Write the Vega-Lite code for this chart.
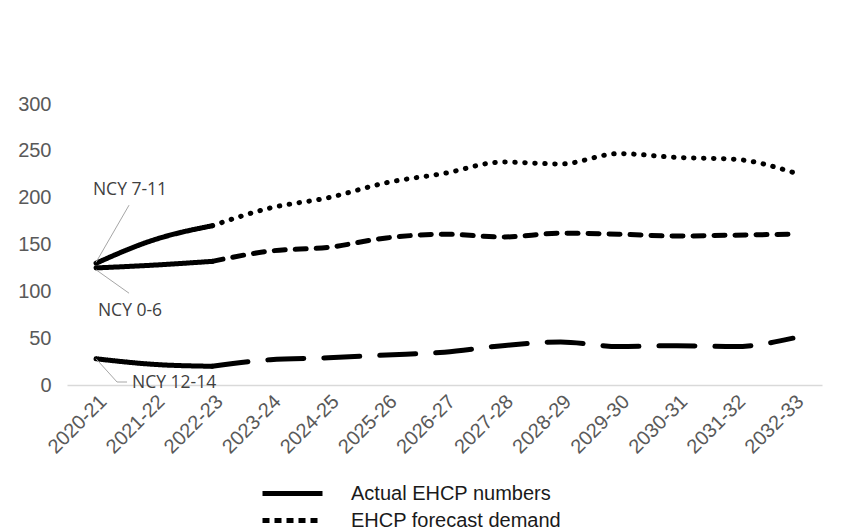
{
  "$schema": "https://vega.github.io/schema/vega-lite/v6.json",
  "autosize": "none",
  "width": 755,
  "height": 281,
  "padding": {"left": 67, "top": 104, "right": 28, "bottom": 147},
  "background": "white",
  "config": {
    "view": {"stroke": null},
    "font": "Liberation Sans"
  },
  "datasets": {
    "main": [
      {"year": "2020-21", "series": "NCY 7-11", "value": 130},
      {"year": "2021-22", "series": "NCY 7-11", "value": 155},
      {"year": "2022-23", "series": "NCY 7-11", "value": 170},
      {"year": "2023-24", "series": "NCY 7-11", "value": 189},
      {"year": "2024-25", "series": "NCY 7-11", "value": 200},
      {"year": "2025-26", "series": "NCY 7-11", "value": 216},
      {"year": "2026-27", "series": "NCY 7-11", "value": 226},
      {"year": "2027-28", "series": "NCY 7-11", "value": 238},
      {"year": "2028-29", "series": "NCY 7-11", "value": 236},
      {"year": "2029-30", "series": "NCY 7-11", "value": 247},
      {"year": "2030-31", "series": "NCY 7-11", "value": 243},
      {"year": "2031-32", "series": "NCY 7-11", "value": 241},
      {"year": "2032-33", "series": "NCY 7-11", "value": 227},
      {"year": "2020-21", "series": "NCY 0-6", "value": 125},
      {"year": "2021-22", "series": "NCY 0-6", "value": 128},
      {"year": "2022-23", "series": "NCY 0-6", "value": 132},
      {"year": "2023-24", "series": "NCY 0-6", "value": 143},
      {"year": "2024-25", "series": "NCY 0-6", "value": 147},
      {"year": "2025-26", "series": "NCY 0-6", "value": 157},
      {"year": "2026-27", "series": "NCY 0-6", "value": 161},
      {"year": "2027-28", "series": "NCY 0-6", "value": 158},
      {"year": "2028-29", "series": "NCY 0-6", "value": 162},
      {"year": "2029-30", "series": "NCY 0-6", "value": 161},
      {"year": "2030-31", "series": "NCY 0-6", "value": 159},
      {"year": "2031-32", "series": "NCY 0-6", "value": 160},
      {"year": "2032-33", "series": "NCY 0-6", "value": 161},
      {"year": "2020-21", "series": "NCY 12-14", "value": 28},
      {"year": "2021-22", "series": "NCY 12-14", "value": 22},
      {"year": "2022-23", "series": "NCY 12-14", "value": 20},
      {"year": "2023-24", "series": "NCY 12-14", "value": 27},
      {"year": "2024-25", "series": "NCY 12-14", "value": 29},
      {"year": "2025-26", "series": "NCY 12-14", "value": 32},
      {"year": "2026-27", "series": "NCY 12-14", "value": 35},
      {"year": "2027-28", "series": "NCY 12-14", "value": 42},
      {"year": "2028-29", "series": "NCY 12-14", "value": 46},
      {"year": "2029-30", "series": "NCY 12-14", "value": 41},
      {"year": "2030-31", "series": "NCY 12-14", "value": 42},
      {"year": "2031-32", "series": "NCY 12-14", "value": 41},
      {"year": "2032-33", "series": "NCY 12-14", "value": 50}
    ]
  },
  "encoding": {
    "x": {
      "field": "year",
      "type": "ordinal",
      "scale": {"type": "point", "padding": 0.5},
      "axis": {
        "title": null,
        "labelAngle": -45,
        "labelFontSize": 20,
        "labelColor": "#595959",
        "labelPadding": 6,
        "ticks": false,
        "domainColor": "#d9d9d9",
        "domainWidth": 1.5,
        "grid": false
      }
    },
    "y": {
      "type": "quantitative",
      "scale": {"domain": [0, 300]},
      "axis": {
        "title": null,
        "values": [0, 50, 100, 150, 200, 250, 300],
        "labelFontSize": 20,
        "labelColor": "#595959",
        "labelPadding": 16,
        "ticks": false,
        "domain": false,
        "grid": false
      }
    }
  },
  "layer": [
    {
      "data": {"name": "main"},
      "transform": [{"filter": {"field": "year", "oneOf": ["2020-21", "2021-22", "2022-23"]}}],
      "mark": {"type": "line", "color": "black", "strokeWidth": 5, "strokeCap": "round", "interpolate": "monotone"},
      "encoding": {
        "y": {"field": "value", "type": "quantitative"},
        "detail": {"field": "series"},
        "strokeDash": {
          "datum": "Actual EHCP numbers",
          "scale": {"domain": ["Actual EHCP numbers", "EHCP forecast demand"], "range": [[1, 0], [7, 5]]},
          "legend": {
            "title": null,
            "orient": "none",
            "legendX": 213,
            "legendY": 377,
            "symbolType": "M-3,0H3",
            "symbolSize": 400,
            "symbolStrokeWidth": 5,
            "symbolStrokeColor": "black",
            "labelFontSize": 20,
            "labelColor": "#1a1a1a",
            "labelOffset": 46,
            "labelLimit": 400,
            "rowPadding": 4
          }
        }
      }
    },
    {
      "data": {"name": "main"},
      "transform": [{"filter": {"field": "year", "oneOf": ["2022-23", "2023-24", "2024-25", "2025-26", "2026-27", "2027-28", "2028-29", "2029-30", "2030-31", "2031-32", "2032-33"]}}],
      "mark": {"type": "line", "color": "black", "strokeWidth": 5, "strokeCap": "round", "interpolate": "monotone"},
      "encoding": {
        "y": {"field": "value", "type": "quantitative"},
        "detail": {"field": "series"},
        "strokeDash": {
          "field": "series",
          "type": "nominal",
          "scale": {"domain": ["NCY 7-11", "NCY 0-6", "NCY 12-14"], "range": [[0.5, 9.5], [11, 10], [36, 20]]},
          "legend": null
        }
      }
    },
    {
      "data": {"values": [{"year": "2020-21", "from": 131, "to": 192}]},
      "mark": {"type": "rule", "color": "#a6a6a6", "strokeWidth": 1, "x2Offset": 33},
      "encoding": {
        "y": {"field": "from", "type": "quantitative"},
        "x2": {"field": "year"},
        "y2": {"field": "to"}
      }
    },
    {
      "data": {"values": [{"year": "2020-21", "from": 123, "to": 98}]},
      "mark": {"type": "rule", "color": "#a6a6a6", "strokeWidth": 1, "x2Offset": 33},
      "encoding": {
        "y": {"field": "from", "type": "quantitative"},
        "x2": {"field": "year"},
        "y2": {"field": "to"}
      }
    },
    {
      "data": {"values": [{"year": "2020-21", "from": 28, "to": 3.2}]},
      "mark": {"type": "rule", "color": "#a6a6a6", "strokeWidth": 1, "x2Offset": 21},
      "encoding": {
        "y": {"field": "from", "type": "quantitative"},
        "x2": {"field": "year"},
        "y2": {"field": "to"}
      }
    },
    {
      "data": {"values": [{"year": "2020-21", "at": 3.2}]},
      "mark": {"type": "rule", "color": "#a6a6a6", "strokeWidth": 1, "xOffset": 21, "x2Offset": 31},
      "encoding": {
        "y": {"field": "at", "type": "quantitative"},
        "x2": {"field": "year"}
      }
    },
    {
      "data": {"values": [{"year": "2020-21", "at": 208, "label": "NCY 7-11"}]},
      "mark": {"type": "text", "font": "Open Sans", "fontSize": 17.5, "color": "#404040", "align": "center", "baseline": "middle", "dx": 34},
      "encoding": {"y": {"field": "at", "type": "quantitative"}, "text": {"field": "label"}}
    },
    {
      "data": {"values": [{"year": "2020-21", "at": 79, "label": "NCY 0-6"}]},
      "mark": {"type": "text", "font": "Open Sans", "fontSize": 17.5, "color": "#404040", "align": "center", "baseline": "middle", "dx": 34},
      "encoding": {"y": {"field": "at", "type": "quantitative"}, "text": {"field": "label"}}
    },
    {
      "data": {"values": [{"year": "2020-21", "at": 2, "label": "NCY 12-14"}]},
      "mark": {"type": "text", "font": "Open Sans", "fontSize": 17.5, "color": "#404040", "align": "left", "baseline": "middle", "dx": 36},
      "encoding": {"y": {"field": "at", "type": "quantitative"}, "text": {"field": "label"}}
    }
  ],
  "resolve": {"scale": {"strokeDash": "independent"}}
}
